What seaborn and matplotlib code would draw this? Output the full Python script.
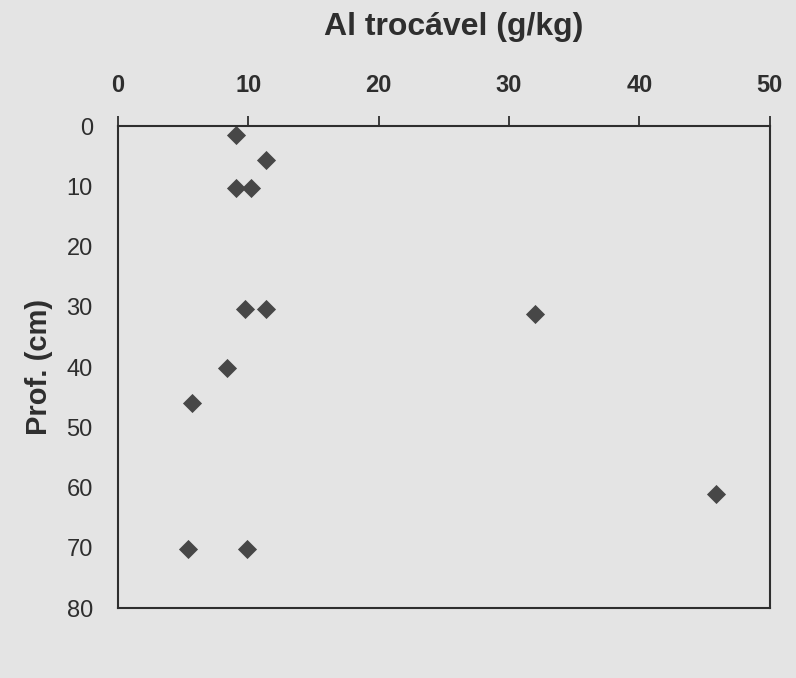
import matplotlib
matplotlib.use("Agg")
import matplotlib.pyplot as plt
import pandas as pd
import seaborn as sns

# Al trocável (g/kg) vs profundidade (cm)
al_trocavel = [9.1, 11.4, 9.1, 10.2, 9.75, 11.4, 32.0, 8.4, 5.7, 45.9, 5.4, 9.9]
profundidade = [1.5, 5.6, 10.3, 10.3, 30.4, 30.4, 31.2, 40.2, 46.0, 61.0, 70.2, 70.2]
x_ticks = [0, 10, 20, 30, 40, 50]
y_ticks = [0, 10, 20, 30, 40, 50, 60, 70, 80]

sns.set_theme(style="white")
plt.rcParams["font.family"] = ["Liberation Sans", "DejaVu Sans"]

bg = "#e4e4e4"
ink = "#2e2e2e"

df = pd.DataFrame({"al": al_trocavel, "prof": profundidade})

fig = plt.figure(figsize=(7.96, 6.78), dpi=100, facecolor=bg)
ax = fig.add_axes([0.148, 0.103, 0.819, 0.711])
ax.set_facecolor(bg)

sns.scatterplot(
    data=df,
    x="al",
    y="prof",
    marker="D",
    s=95,
    color="#474747",
    linewidth=0,
    legend=False,
    ax=ax,
)

ax.set_xlim(0, 50)
ax.set_ylim(80, 0)
ax.set_xticks(x_ticks)
ax.set_yticks(y_ticks)
ax.xaxis.set_ticks_position("top")
ax.xaxis.set_label_position("top")
ax.tick_params(axis="x", direction="out", length=7, width=1.3, color=ink,
               labelsize=17, labelcolor=ink, pad=14)
ax.tick_params(axis="y", direction="out", length=9, width=1.3, color=ink,
               labelsize=17, labelcolor=ink, pad=9)
for lab in ax.get_xticklabels():
    lab.set_fontweight("bold")
for spine in ax.spines.values():
    spine.set_visible(True)
    spine.set_color(ink)
    spine.set_linewidth(1.5)

ax.set_xlabel("Al trocável (g/kg)", fontsize=23, fontweight="bold", color=ink, labelpad=28)
ax.xaxis.label.set_x(0.515)
ax.set_ylabel("Prof. (cm)", fontsize=21, fontweight="bold", color=ink, labelpad=10)

fig.savefig("out.png", dpi=100, facecolor=bg)
